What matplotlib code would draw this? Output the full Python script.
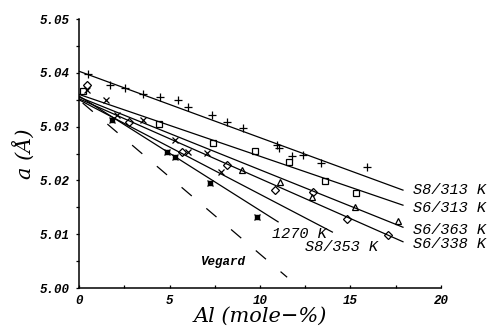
import matplotlib
matplotlib.use('Agg')
import matplotlib.pyplot as plt
from matplotlib.ticker import MultipleLocator

# --- data ---
# S8/313 K  (+)
s8_313_x = [0.50, 1.71, 2.54, 3.54, 4.48, 5.47, 6.02, 7.35, 8.18, 9.06,
            10.94, 11.05, 11.77, 12.38, 13.37, 15.91]
s8_313_y = [5.0398, 5.0377, 5.0372, 5.0361, 5.0355, 5.0349, 5.0336, 5.0322,
            5.0309, 5.0297, 5.0266, 5.0260, 5.0245, 5.0247, 5.0232, 5.0225]
# S6/313 K  (squares)
s6_313_x = [0.22, 4.42, 7.40, 9.72, 11.60, 13.59, 15.30]
s6_313_y = [5.0366, 5.0305, 5.0270, 5.0255, 5.0234, 5.0199, 5.0177]
# S6/363 K  (triangles)
s6_363_x = [9.01, 11.10, 12.87, 15.25, 17.62]
s6_363_y = [5.0219, 5.0197, 5.0169, 5.0151, 5.0125]
# S6/338 K  (diamonds)
s6_338_x = [0.44, 2.76, 5.69, 8.18, 10.83, 12.93, 14.81, 17.07]
s6_338_y = [5.0377, 5.0309, 5.0253, 5.0229, 5.0182, 5.0178, 5.0128, 5.0099]
# S8/353 K  (x)
s8_353_x = [0.44, 1.49, 2.10, 3.54, 5.30, 6.00, 7.07, 7.85]
s8_353_y = [5.0368, 5.0349, 5.0322, 5.0312, 5.0275, 5.0253, 5.0251, 5.0216]
# 1270 K  (starred boxes)
k1270_x = [1.82, 4.86, 5.30, 7.24, 9.83]
k1270_y = [5.0312, 5.0253, 5.0243, 5.0195, 5.0132]

# fitted lines: value at x=0, end x, end value
fit_names = ['S8/313 K', 'S6/313 K', 'S6/363 K', 'S6/338 K', 'S8/353 K', '1270 K']
fit_y0 = [5.0403, 5.0360, 5.0355, 5.0352, 5.0350, 5.0357]
fit_x1 = [17.9, 17.9, 17.9, 17.9, 14.0, 11.0]
fit_y1 = [5.0182, 5.0154, 5.0113, 5.0086, 5.0104, 5.0123]

vegard_x = [0.2, 11.5]
vegard_y = [5.0344, 5.0020]

# label anchors (left edge, vertical centre)
label_x = [18.45, 18.45, 18.45, 18.45, 12.49, 10.66]
label_y = [5.0182, 5.0149, 5.0108, 5.0082, 5.0076, 5.0100]

fig = plt.figure(figsize=(4.89, 3.29), dpi=100)
ax = fig.add_axes([0.1616, 0.1246, 0.7402, 0.8174])

for y0, x1, y1 in zip(fit_y0, fit_x1, fit_y1):
    ax.plot([0, x1], [y0, y1], '-', color='black', lw=0.9)
ax.plot(vegard_x, vegard_y, color='black', lw=0.9, dashes=(10.7, 15.3))

mk = dict(color='black', ls='none', mfc='none', mew=0.9)
ax.plot(s8_313_x, s8_313_y, marker='+', ms=5.5, **mk)
ax.plot(s6_313_x, s6_313_y, marker='s', ms=5, **mk)
ax.plot(s6_363_x, s6_363_y, marker='^', ms=4.5, **mk)
ax.plot(s6_338_x, s6_338_y, marker='D', ms=3.8, **mk)
ax.plot(s8_353_x, s8_353_y, marker='x', ms=4.5, **mk)
ax.plot(k1270_x, k1270_y, marker='x', ms=4.5, **mk)
ax.plot(k1270_x, k1270_y, marker='s', ms=2.2, color='black', ls='none')

lab = dict(family='Liberation Mono', style='italic', fontsize=11,
           va='center', ha='left', clip_on=False)
for name, lx, ly in zip(fit_names, label_x, label_y):
    ax.text(lx, ly, name, **lab)
ax.text(6.69, 5.0048, 'Vegard', family='Liberation Mono', style='italic',
        weight='bold', fontsize=9, va='center', ha='left')

ax.set_xlim(0, 20)
ax.set_ylim(5.00, 5.05)
ax.xaxis.set_minor_locator(MultipleLocator(2.5))
ax.yaxis.set_minor_locator(MultipleLocator(0.005))
ax.set_xticks([0, 5, 10, 15, 20])
ax.set_xticklabels(['0', '5', '10', '15', '20'])
yt = [5.00, 5.01, 5.02, 5.03, 5.04, 5.05]
ax.set_yticks(yt)
ax.set_yticklabels([f'{v:.2f}' for v in yt])
for t in ax.get_xticklabels() + ax.get_yticklabels():
    t.set_family('Liberation Mono')
    t.set_style('italic')
    t.set_weight('bold')
    t.set_fontsize(9)
ax.tick_params(axis='y', which='both', direction='out', length=2.5,
               width=0.9, pad=4)
ax.tick_params(axis='x', which='both', direction='in', length=2,
               width=0.9, pad=5)

for side in ['top', 'right']:
    ax.spines[side].set_visible(False)
for side in ['left', 'bottom']:
    ax.spines[side].set_linewidth(1.1)

ax.set_xlabel('Al (mole\u2212%)', family='DejaVu Serif', style='italic',
              fontsize=15, labelpad=0)
ax.set_ylabel('a (\u00c5)', family='DejaVu Serif', style='italic',
              fontsize=15, labelpad=4)

fig.savefig('out.png', dpi=100)
